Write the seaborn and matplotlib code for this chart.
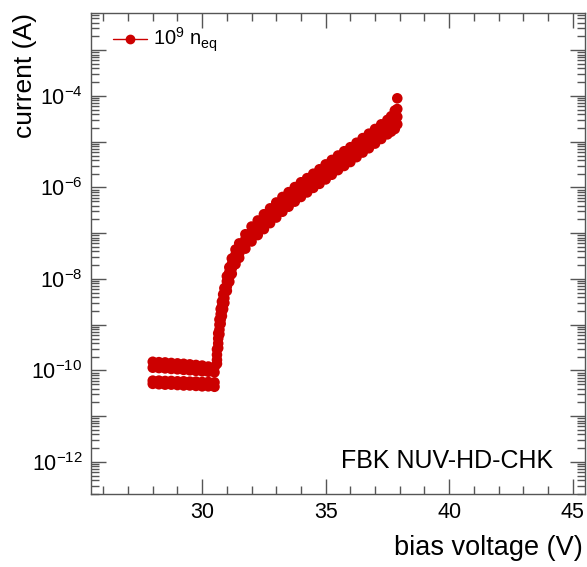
import matplotlib
matplotlib.use("Agg")
import numpy as np
import pandas as pd
import seaborn as sns
import matplotlib.pyplot as plt
from matplotlib.ticker import LogLocator, MultipleLocator, FuncFormatter, NullFormatter
from matplotlib.lines import Line2D

# ---------------- data ----------------
voltage = [28.0, 28.25, 28.5, 28.75, 29.0, 29.25, 29.5, 29.75, 30.0, 30.25, 30.5,
           30.6, 30.65, 30.7, 30.75, 30.8, 30.85, 30.9, 31.0, 31.1, 31.2, 31.35, 31.5,
           31.75, 32.0, 32.25, 32.5, 32.75, 33.0, 33.25, 33.5, 33.75, 34.0, 34.25, 34.5,
           34.75, 35.0, 35.25, 35.5, 35.75, 36.0, 36.25, 36.5, 36.75, 37.0, 37.25, 37.5,
           37.65, 37.8, 37.9]

current_run1 = [1.55e-10, 1.52e-10, 1.50e-10, 1.46e-10, 1.43e-10, 1.40e-10, 1.36e-10, 1.32e-10, 1.28e-10, 1.22e-10, 1.18e-10,
                2.9e-10, 6.5e-10, 1.3e-9, 2.2e-9, 3.2e-9, 4.6e-9, 6.3e-9, 1.15e-8, 1.8e-8, 2.8e-8, 4.4e-8, 6.0e-8,
                9.5e-8, 1.4e-7, 1.9e-7, 2.6e-7, 3.5e-7, 4.7e-7, 6.2e-7, 7.9e-7, 1.02e-6, 1.3e-6, 1.6e-6, 2.0e-6,
                2.5e-6, 3.2e-6, 4.0e-6, 5.0e-6, 6.2e-6, 7.6e-6, 9.5e-6, 1.2e-5, 1.5e-5, 1.9e-5, 2.4e-5, 3.0e-5,
                3.6e-5, 4.8e-5, 8.9e-5]

current_run2 = [1.15e-10, 1.13e-10, 1.11e-10, 1.08e-10, 1.06e-10, 1.03e-10, 1.01e-10, 9.8e-11, 9.6e-11, 9.4e-11, 9.1e-11,
                2.2e-10, 5.0e-10, 1.0e-9, 1.7e-9, 2.5e-9, 3.5e-9, 4.9e-9, 8.9e-9, 1.4e-8, 2.1e-8, 3.4e-8, 4.7e-8,
                7.4e-8, 1.07e-7, 1.5e-7, 2.0e-7, 2.7e-7, 3.6e-7, 4.8e-7, 6.2e-7, 7.9e-7, 1.0e-6, 1.26e-6, 1.6e-6,
                1.95e-6, 2.45e-6, 3.1e-6, 3.9e-6, 4.8e-6, 5.9e-6, 7.4e-6, 9.3e-6, 1.17e-5, 1.5e-5, 1.9e-5, 2.3e-5,
                2.8e-5, 3.5e-5, 5.2e-5]

current_run3 = [6.0e-11, 6.0e-11, 5.9e-11, 5.9e-11, 5.8e-11, 5.8e-11, 5.7e-11, 5.7e-11, 5.6e-11, 5.6e-11, 5.5e-11,
                1.7e-10, 3.9e-10, 7.8e-10, 1.3e-9, 1.95e-9, 2.8e-9, 3.8e-9, 6.9e-9, 1.1e-8, 1.7e-8, 2.6e-8, 3.6e-8,
                5.8e-8, 8.3e-8, 1.15e-7, 1.55e-7, 2.1e-7, 2.8e-7, 3.7e-7, 4.8e-7, 6.2e-7, 7.8e-7, 9.8e-7, 1.23e-6,
                1.5e-6, 1.9e-6, 2.4e-6, 3.0e-6, 3.7e-6, 4.6e-6, 5.8e-6, 7.2e-6, 9.1e-6, 1.15e-5, 1.45e-5, 1.8e-5,
                2.1e-5, 2.6e-5, 3.5e-5]

current_run4 = [5.1e-11, 5.0e-11, 4.9e-11, 4.9e-11, 4.8e-11, 4.7e-11, 4.7e-11, 4.6e-11, 4.5e-11, 4.5e-11, 4.4e-11,
                1.4e-10, 3.1e-10, 6.2e-10, 1.05e-9, 1.55e-9, 2.2e-9, 3.0e-9, 5.5e-9, 8.7e-9, 1.3e-8, 2.1e-8, 2.9e-8,
                4.6e-8, 6.6e-8, 9.1e-8, 1.23e-7, 1.66e-7, 2.2e-7, 2.95e-7, 3.8e-7, 4.9e-7, 6.2e-7, 7.8e-7, 9.8e-7,
                1.2e-6, 1.5e-6, 1.9e-6, 2.4e-6, 2.95e-6, 3.6e-6, 4.6e-6, 5.8e-6, 7.2e-6, 9.1e-6, 1.15e-5, 1.45e-5,
                1.66e-5, 1.9e-5, 2.4e-5]

runs = {"run1": current_run1, "run2": current_run2, "run3": current_run3, "run4": current_run4}
legend_label = r"$\mathregular{10^{9}\ n_{eq}}$"
device_label = "FBK NUV-HD-CHK"
x_title = "bias voltage (V)"
y_title = "current (A)"

# ---------------- style ----------------
sns.set_style("ticks")
plt.rcParams["font.family"] = ["Liberation Sans", "DejaVu Sans"]
plt.rcParams["mathtext.fontset"] = "custom"
plt.rcParams["mathtext.rm"] = "Liberation Sans"
plt.rcParams["mathtext.it"] = "Liberation Sans:italic"
plt.rcParams["mathtext.bf"] = "Liberation Sans:bold"
plt.rcParams["text.color"] = "black"
plt.rcParams["axes.labelcolor"] = "black"
plt.rcParams["xtick.labelcolor"] = "black"
plt.rcParams["ytick.labelcolor"] = "black"

red = "#cc0000"
axis_col = "#555555"

df = pd.concat(
    [pd.DataFrame({"voltage": voltage, "current": cur, "run": name}) for name, cur in runs.items()],
    ignore_index=True,
)

fig = plt.figure(figsize=(5.87, 5.67), dpi=100)
ax = fig.add_axes([91 / 587, 73 / 567, 494 / 587, 481 / 567])

sns.scatterplot(data=df, x="voltage", y="current", hue="run",
                palette=[red] * len(runs), s=58, linewidth=0, marker="o",
                legend=False, ax=ax, zorder=3)

ax.set_yscale("log")
ax.set_xlim(25.5, 45.5)
ax.set_ylim(10 ** -12.70, 10 ** -2.186)

ax.xaxis.set_major_locator(MultipleLocator(5))
ax.xaxis.set_minor_locator(MultipleLocator(1))
ax.xaxis.set_major_formatter(FuncFormatter(lambda v, p: f"{v:g}" if v >= 30 else ""))

ax.yaxis.set_major_locator(LogLocator(base=10, subs=(1.0,), numticks=30))
ax.yaxis.set_minor_locator(LogLocator(base=10, subs=np.arange(2, 10), numticks=30))


def yfmt(v, p):
    e = int(round(np.log10(v)))
    if e % 2 == 0:
        return r"$\mathregular{10^{%d}}$" % e
    return ""


ax.yaxis.set_major_formatter(FuncFormatter(yfmt))
ax.yaxis.set_minor_formatter(NullFormatter())

ax.tick_params(which="both", direction="in", top=True, right=True, color=axis_col, width=1)
ax.tick_params(which="major", length=11)
ax.tick_params(which="minor", length=5.5)
ax.tick_params(axis="x", which="major", labelsize=15.5, pad=6)
ax.tick_params(axis="y", which="major", labelsize=15.5, pad=6)

for s in ax.spines.values():
    s.set_color(axis_col)
    s.set_linewidth(1)

ax.set_xlabel(x_title, loc="right", fontsize=19.5)
ax.set_ylabel(y_title, loc="top", fontsize=19)
ax.xaxis.set_label_coords((583 - 91) / 494, (494 - 535) / 481)
ax.yaxis.set_label_coords((37 - 91) / 494, 1.0)

ax.text((553 - 91) / 494, (494 - 461) / 481, device_label, transform=ax.transAxes,
        ha="right", va="center", fontsize=18)

handle = Line2D([], [], color=red, marker="o", markersize=6, lw=1)
ax.legend([handle], [legend_label], loc="center left",
          bbox_to_anchor=((113 - 91) / 494, (494 - 40) / 481),
          frameon=False, fontsize=14.5, handlelength=1.7, handletextpad=0.3,
          borderpad=0, borderaxespad=0)

fig.savefig("out.png", dpi=100)
